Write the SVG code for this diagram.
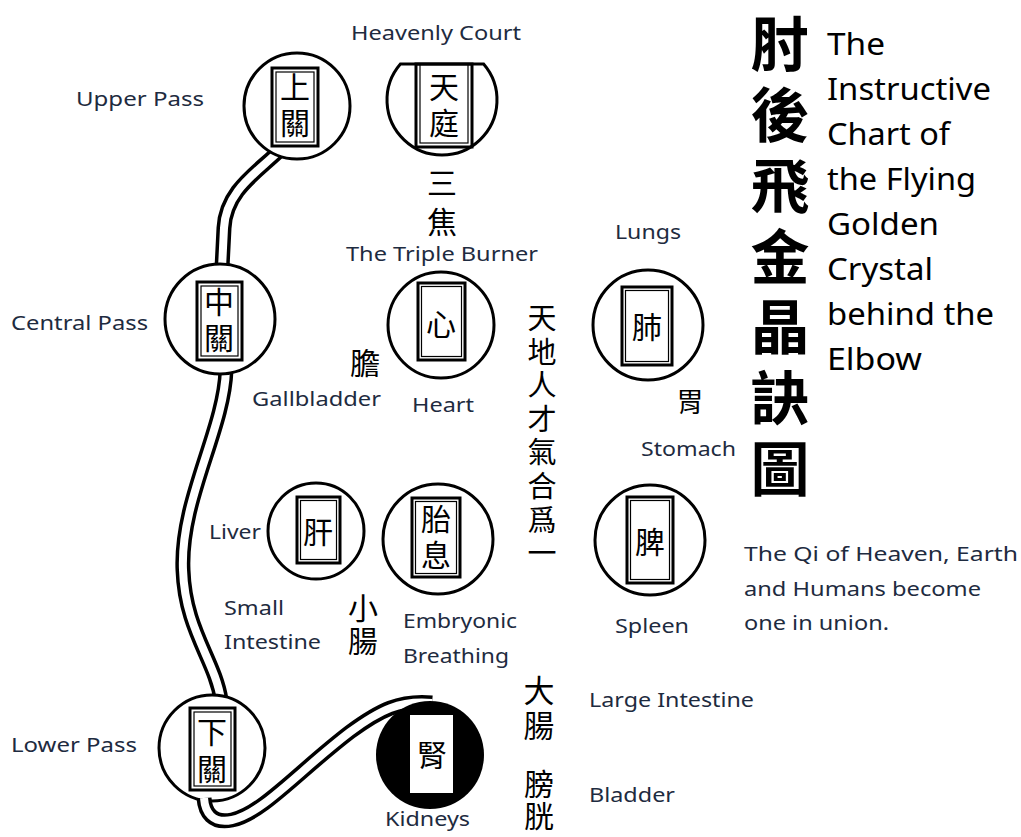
<svg xmlns="http://www.w3.org/2000/svg" width="1021" height="837" viewBox="0 0 1021 837">
<style>
.lbl{font-family:"Noto Sans","Open Sans","Liberation Sans",sans-serif;font-size:20px;fill:#1e2b40}
.ttl{font-family:"Noto Sans","Open Sans","Liberation Sans",sans-serif;font-size:30px;fill:#000}
.cj{font-family:"Noto Sans CJK TC","Noto Sans CJK SC",sans-serif;font-size:30px;fill:#000;text-anchor:middle;dominant-baseline:central}
.v{font-family:"Noto Sans CJK TC","Noto Sans CJK SC",sans-serif;font-size:30px;fill:#000;writing-mode:vertical-rl;text-anchor:start}
.big{font-family:"Noto Sans CJK TC","Noto Sans CJK SC",sans-serif;font-size:59px;font-weight:bold;fill:#000;writing-mode:vertical-rl;text-anchor:start;letter-spacing:11.7px}
.c{fill:#fff;stroke:#000;stroke-width:3}
.r{fill:none;stroke:#000;stroke-width:3}
.ri{fill:none;stroke:#000;stroke-width:1.2}
.tb{fill:none;stroke:#000;stroke-width:15;stroke-linecap:butt}
.tw{fill:none;stroke:#fff;stroke-width:8;stroke-linecap:butt}
</style>
<rect width="1021" height="837" fill="#fff"/>

<g id="connectors">
  <path class="tb" d="M280,150 C258,172 226,190 224,228 L222,268"/>
  <path class="tw" d="M280,150 C258,172 226,190 224,228 L222,268"/>
  <path class="tb" d="M226,370 C224,430 180,500 183,570 C185,630 215,660 221,700"/>
  <path class="tw" d="M226,370 C224,430 180,500 183,570 C185,630 215,660 221,700"/>
</g>

<g id="upper-pass">
  <circle class="c" cx="297" cy="106" r="53"/>
  <rect class="r" x="272" y="68" width="46" height="78"/>
  <rect class="ri" x="276" y="72" width="38" height="70"/>
  <text class="v" x="295" y="72" style="letter-spacing:6px">上關</text>
</g>

<g id="heavenly-court">
  <path class="c" d="M400.4,64 A55,55 0 1 0 483.6,64 Z"/>
  <rect class="r" x="416" y="64" width="56" height="83"/>
  <rect class="ri" x="420" y="64" width="48" height="79"/>
  <text class="v" x="444" y="72" style="letter-spacing:6px">天庭</text>
</g>

<g id="central-pass">
  <circle class="c" cx="220" cy="319" r="55"/>
  <rect class="r" x="197" y="282" width="45" height="78"/>
  <rect class="ri" x="201" y="286" width="37" height="70"/>
  <text class="v" x="219" y="287" style="letter-spacing:6px">中關</text>
</g>

<g id="heart">
  <circle class="c" cx="441" cy="325" r="53"/>
  <rect class="r" x="418" y="283" width="47" height="77"/>
  <rect class="ri" x="421.5" y="286.5" width="40" height="70"/>
  <text class="cj" x="441" y="322">心</text>
</g>

<g id="lungs">
  <circle class="c" cx="648" cy="325" r="55"/>
  <rect class="r" x="622" y="287" width="50" height="78"/>
  <rect class="ri" x="625.5" y="290.5" width="43" height="71"/>
  <text class="cj" x="647" y="325">肺</text>
</g>

<g id="liver">
  <circle class="c" cx="316" cy="531" r="48"/>
  <rect class="r" x="297" y="497" width="43" height="66"/>
  <rect class="ri" x="300.5" y="500.5" width="36" height="59"/>
  <text class="cj" x="318" y="530">肝</text>
</g>

<g id="embryonic-breathing">
  <circle class="c" cx="438" cy="539" r="55"/>
  <rect class="r" x="412" y="498" width="48" height="79"/>
  <rect class="ri" x="415.5" y="501.5" width="41" height="72"/>
  <text class="v" x="436" y="504" style="letter-spacing:6px">胎息</text>
</g>

<g id="spleen">
  <circle class="c" cx="650" cy="540" r="55"/>
  <rect class="r" x="627" y="497" width="46" height="86"/>
  <rect class="ri" x="630.5" y="500.5" width="39" height="79"/>
  <text class="cj" x="650" y="540">脾</text>
</g>

<g id="lower-pass">
  <circle class="c" cx="212" cy="748" r="53"/>
  <rect class="r" x="190" y="708" width="45" height="82"/>
  <rect class="ri" x="194" y="712" width="37" height="74"/>
  <text class="v" x="212" y="717" style="letter-spacing:7px">下關</text>
</g>

<g id="connector-lower">
  <path class="tb" d="M204,798 C205,812 212,824 232,820 C262,814 300,770 350,732 C380,710 400,700 432,703"/>
  <path class="tw" d="M204,798 C205,812 212,824 232,820 C262,814 300,770 350,732 C380,710 400,700 432,703"/>
</g>

<g id="kidneys">
  <circle cx="430" cy="755" r="54" fill="#000"/>
  <rect x="410" y="715" width="43" height="78" fill="#fff"/>
  <text class="cj" x="432" y="753">腎</text>
</g>

<g id="chinese-labels">
  <text class="v" x="442" y="168" style="letter-spacing:9px">三焦</text>
  <text class="cj" x="365" y="361">膽</text>
  <text class="cj" x="690" y="400" style="font-size:27px">胃</text>
  <text class="v" x="363" y="593" style="letter-spacing:3px">小腸</text>
  <text class="v" x="539" y="674.5" style="font-size:31px;letter-spacing:4px">大腸</text>
  <text class="v" x="539" y="769" style="letter-spacing:2px">膀胱</text>
  <text class="v" x="542" y="303.5" style="font-size:29px;letter-spacing:4.6px">天地人才氣合爲一</text>
</g>

<g id="title-chinese">
  <text class="big" x="780" y="14.5">肘後飛金晶訣圖</text>
</g>

<g id="title-english">
  <text class="ttl" x="827" y="55" textLength="58" lengthAdjust="spacingAndGlyphs">The</text>
  <text class="ttl" x="827" y="100" textLength="164" lengthAdjust="spacingAndGlyphs">Instructive</text>
  <text class="ttl" x="827" y="145" textLength="123" lengthAdjust="spacingAndGlyphs">Chart of</text>
  <text class="ttl" x="827" y="190" textLength="149" lengthAdjust="spacingAndGlyphs">the Flying</text>
  <text class="ttl" x="827" y="235" textLength="112" lengthAdjust="spacingAndGlyphs">Golden</text>
  <text class="ttl" x="827" y="280" textLength="106" lengthAdjust="spacingAndGlyphs">Crystal</text>
  <text class="ttl" x="827" y="325" textLength="167" lengthAdjust="spacingAndGlyphs">behind the</text>
  <text class="ttl" x="827" y="370" textLength="95" lengthAdjust="spacingAndGlyphs">Elbow</text>
</g>

<g id="labels">
  <text class="lbl" x="351" y="40" textLength="170" lengthAdjust="spacingAndGlyphs">Heavenly Court</text>
  <text class="lbl" x="76" y="106" textLength="128" lengthAdjust="spacingAndGlyphs">Upper Pass</text>
  <text class="lbl" x="11" y="330" textLength="137" lengthAdjust="spacingAndGlyphs">Central Pass</text>
  <text class="lbl" x="346" y="261" textLength="192" lengthAdjust="spacingAndGlyphs">The Triple Burner</text>
  <text class="lbl" x="615" y="239" textLength="66" lengthAdjust="spacingAndGlyphs">Lungs</text>
  <text class="lbl" x="252" y="406" textLength="129" lengthAdjust="spacingAndGlyphs">Gallbladder</text>
  <text class="lbl" x="412" y="412" textLength="62" lengthAdjust="spacingAndGlyphs">Heart</text>
  <text class="lbl" x="641" y="456" textLength="95" lengthAdjust="spacingAndGlyphs">Stomach</text>
  <text class="lbl" x="209" y="539" textLength="52" lengthAdjust="spacingAndGlyphs">Liver</text>
  <text class="lbl" x="224" y="615" textLength="60" lengthAdjust="spacingAndGlyphs">Small</text>
  <text class="lbl" x="224" y="649" textLength="97" lengthAdjust="spacingAndGlyphs">Intestine</text>
  <text class="lbl" x="403" y="628" textLength="114" lengthAdjust="spacingAndGlyphs">Embryonic</text>
  <text class="lbl" x="403" y="663" textLength="106" lengthAdjust="spacingAndGlyphs">Breathing</text>
  <text class="lbl" x="615" y="633" textLength="74" lengthAdjust="spacingAndGlyphs">Spleen</text>
  <text class="lbl" x="744" y="561" textLength="274" lengthAdjust="spacingAndGlyphs">The Qi of Heaven,  Earth</text>
  <text class="lbl" x="744" y="596" textLength="237" lengthAdjust="spacingAndGlyphs">and Humans become</text>
  <text class="lbl" x="744" y="630" textLength="145" lengthAdjust="spacingAndGlyphs">one in union.</text>
  <text class="lbl" x="589" y="707" textLength="165" lengthAdjust="spacingAndGlyphs">Large Intestine</text>
  <text class="lbl" x="11" y="752" textLength="126" lengthAdjust="spacingAndGlyphs">Lower Pass</text>
  <text class="lbl" x="589" y="802" textLength="86" lengthAdjust="spacingAndGlyphs">Bladder</text>
  <text class="lbl" x="385" y="826" textLength="85" lengthAdjust="spacingAndGlyphs">Kidneys</text>
</g>
</svg>
